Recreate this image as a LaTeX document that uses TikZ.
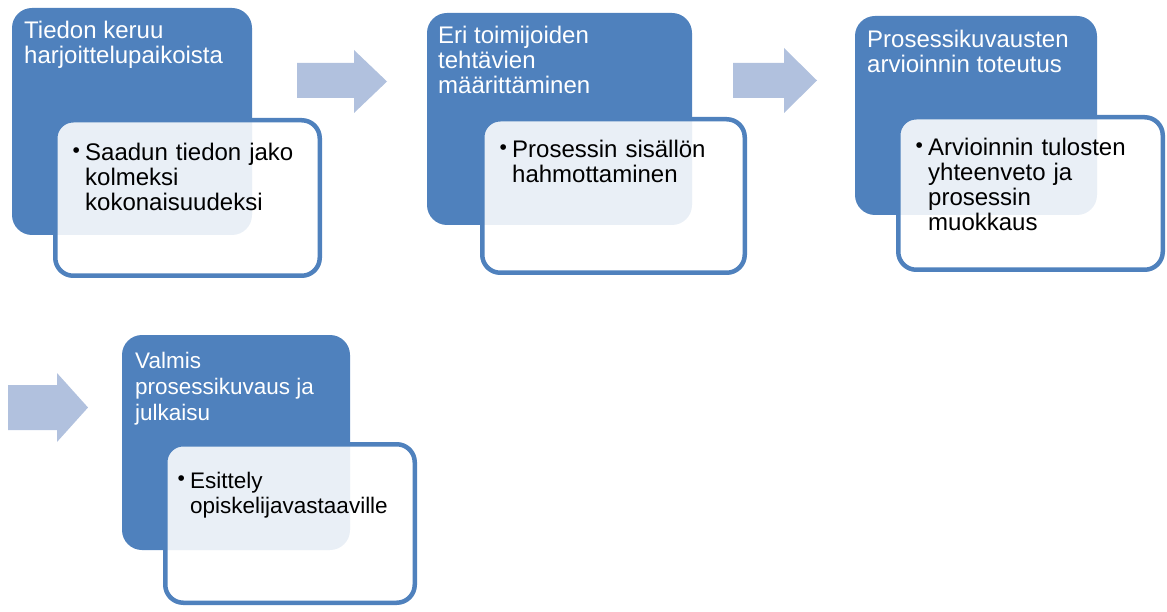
\documentclass[tikz,border=0pt]{standalone}
\usepackage{fontspec}
\setmainfont{Liberation Sans}
\definecolor{accent}{RGB}{79,129,189}
\definecolor{arrowc}{RGB}{177,193,222}
\newcommand{\bulletitem}{\hangindent=13pt\hangafter=1\noindent\makebox[13pt][l]{\hspace{0.5pt}\raisebox{3pt}{\fontsize{21}{21}\selectfont •}}}
\tikzset{
  bluebox/.style={fill=accent, draw=none, rounded corners=20pt, inner sep=0pt, outer sep=0pt},
  whitebox/.style={fill=white, fill opacity=0.88, draw=accent, draw opacity=1, line width=4.5pt, rounded corners=18pt, inner sep=0pt, outer sep=0pt},
  titletext/.style={anchor=north west, inner sep=0pt, text=white, align=left, font=\fontsize{24}{25}\selectfont},
  itemtext/.style={anchor=north west, inner sep=0pt, text=black, text width=260pt, align=left, font=\fontsize{24}{25}\selectfont},
  smallfont/.style={font=\fontsize{22.5}{26}\selectfont},
  flow/.style={fill=arrowc, draw=none}
}
\begin{document}
\begin{tikzpicture}[x=1pt,y=-1pt]
\useasboundingbox (0,0) rectangle (1167,612);
% block 1
\node[bluebox, minimum width=240pt, minimum height=227pt] (b1) at (132,121.5) {};
\node[whitebox, minimum width=264.5pt, minimum height=155.5pt] (w1) at (187.5,198) {};
\node[titletext] (t1) at (24,21) {Tiedon keruu\\harjoittelupaikoista};
\node[itemtext] (i1) at (72,143) {\bulletitem Saadun tiedon jako\newline kolmeksi\newline kokonaisuudeksi\par};
% block 2
\node[bluebox, minimum width=265pt, minimum height=212pt] (b2) at (559.5,119) {};
\node[whitebox, minimum width=262.5pt, minimum height=153.5pt] (w2) at (613.5,196) {};
\node[titletext] (t2) at (438,26) {Eri toimijoiden\\tehtävien\\määrittäminen};
\node[itemtext] (i2) at (499,140) {\bulletitem Prosessin sisällön\newline hahmottaminen\par};
% block 3
\node[bluebox, minimum width=242pt, minimum height=199pt] (b3) at (976,115.5) {};
\node[whitebox, minimum width=264.5pt, minimum height=152.5pt] (w3) at (1030.5,193.5) {};
\node[titletext] (t3) at (867,30) {Prosessikuvausten\\arvioinnin toteutus};
\node[itemtext] (i3) at (915,138) {\bulletitem Arvioinnin tulosten\newline yhteenveto ja\newline prosessin\newline muokkaus\par};
% block 4
\node[bluebox, minimum width=228pt, minimum height=215pt] (b4) at (236,442.5) {};
\node[whitebox, minimum width=249.5pt, minimum height=158.5pt] (w4) at (290,523.5) {};
\node[titletext, smallfont] (t4) at (135,352) {Valmis\\prosessikuvaus ja\\julkaisu};
\node[itemtext, font=\fontsize{22.5}{25}\selectfont] (i4) at (177,472) {\bulletitem Esittely\newline opiskelijavastaaville\par};
% arrows
\fill[flow] (297,63) -- (354,63) -- (354,50) -- (387,81.5) -- (354,113) -- (354,98) -- (297,98) -- cycle;
\fill[flow] (733,63) -- (784,63) -- (784,48) -- (817,80.5) -- (784,113) -- (784,98) -- (733,98) -- cycle;
\fill[flow] (8,385) -- (57,385) -- (57,373) -- (88,407.5) -- (57,442) -- (57,430) -- (8,430) -- cycle;
\end{tikzpicture}
\end{document}
